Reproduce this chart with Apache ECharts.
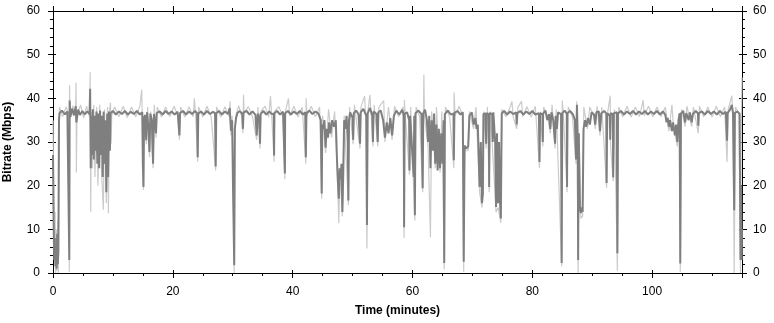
<!DOCTYPE html>
<html>
<head>
<meta charset="utf-8">
<script src="https://cdn.jsdelivr.net/npm/echarts@6/dist/echarts.min.js"></script>
<style>
html,body{margin:0;padding:0;background:#fff;}
#c{width:774px;height:323px;}
</style>
</head>
<body>
<div id="c"></div>
<script>
// Axis definitions
const xTicks = [0, 20, 40, 60, 80, 100];
const yTicks = [0, 10, 20, 30, 40, 50, 60];
const xMax = 115;

// Dark series: [time (minutes), bitrate (Mbps)]
const darkPoints = [
[0,27],[0.1,12],[0.2,3],[0.3,8],[0.4,1.5],[0.5,6],[0.6,1],[0.7,9],[0.8,2],[0.9,5],[1.0,35],[1.1,36.6],
[1.5,37.2],[2.0,36.3],[2.4,37.0],[2.65,36.6],[2.72,3],[2.78,39.5],[2.9,35.8],[3.2,37.6],[3.5,36.1],[3.8,38.2],[3.9,34.5],
[4.2,37.4],[4.5,36.2],[4.9,37.1],[5.3,36.3],[5.7,37.0],[6.1,36.4],[6.2,42.2],[6.3,24],[6.4,36],[6.5,27],[6.65,37.5],
[6.8,26],[6.95,36],[7.1,28],[7.25,37],[7.4,25],[7.55,36.5],[7.7,24],[7.85,37.2],[8.0,27],[8.15,36],[8.3,22],[8.45,37],
[8.6,25],[8.75,35],[8.9,18.5],[9.05,36.5],[9.2,22],[9.35,37],[9.5,28],[9.6,36.6],[10.0,37.1],[10.5,36.3],[11.0,37.0],
[11.5,36.4],[12.0,37.1],[12.5,36.3],[13.0,36.9],[13.5,36.4],[14.0,37.1],[14.5,36.3],[14.9,36.8],[15.0,25],[15.1,19.7],
[15.2,35.5],[15.4,36.2],[15.55,30.4],[15.7,36.8],[15.95,33],[16.1,27.7],[16.25,36.5],[16.5,35],[16.7,25],[16.85,36.4],
[17.1,36.8],[17.2,32],[17.3,36.6],[17.8,37.0],[18.3,36.3],[18.8,37.1],[19.3,36.4],[19.8,37.0],[20.3,36.3],[20.8,36.9],
[21.0,36.6],[21.1,31.5],[21.2,36.6],[21.7,37.1],[22.2,36.3],[22.7,37.0],[23.2,36.4],[23.7,37.1],[24.05,36.6],[24.15,26.5],
[24.25,36.5],[24.7,37.0],[25.2,36.3],[25.7,37.1],[26.2,36.4],[26.7,36.9],[27.05,36.6],[27.15,24.4],[27.25,36.6],[27.7,37.1],
[28.2,36.3],[28.7,37.0],[29.2,36.4],[29.5,37.8],[29.7,32.6],[29.9,35],[30.05,19.6],[30.25,1.8],[30.35,33],[30.55,35.5],
[30.8,36.7],[31.2,37.1],[31.6,36.4],[31.7,33],[31.8,36.8],[32.3,37.1],[32.8,36.3],[33.3,37.0],[33.8,36.2],[34.0,31.5],
[34.2,36.5],[34.45,35],[34.55,29.6],[34.65,36.4],[35.1,37.1],[35.6,36.3],[36.1,37.0],[36.5,36.4],[36.85,36.5],[36.9,26.9],
[36.95,36.6],[37.4,37.1],[37.9,36.3],[38.4,36.9],[38.65,36.5],[38.7,22.8],[38.75,36.6],[39.2,37.1],[39.7,36.3],[40.2,37.0],
[40.7,36.4],[41.2,37.1],[41.7,36.3],[42.1,36.8],[42.2,26.5],[42.3,36.6],[42.8,37.2],[43.3,36.4],[43.8,37.0],[44.3,36.5],
[44.7,35],[44.85,18.2],[44.95,34],[45.1,33],[45.3,35],[45.5,28.7],[45.65,33],[45.9,31],[46.1,34.5],[46.3,32],[46.6,35],
[46.9,33.5],[47.2,35],[47.4,26],[47.55,21],[47.7,17],[47.85,24],[48.0,21.5],[48.15,25],[48.3,14],[48.45,23],[48.6,35],
[48.8,33],[49.0,36],[49.2,30],[49.3,16.6],[49.4,35],[49.6,36.8],[50.0,35.5],[50.1,30.5],[50.2,36.6],[50.6,37.2],[51.0,36.3],
[51.25,29.6],[51.35,36.8],[51.8,37.6],[52.3,36],[52.4,11],[52.5,36.5],[52.9,37.8],[53.3,36],[53.4,30],[53.5,37],[54.0,36.4],
[54.2,30],[54.3,36.8],[54.7,37.2],[55.1,35],[55.4,31],[55.7,34.5],[56.0,32],[56.3,35.5],[56.6,31.5],[56.9,36],[57.3,37.2],
[57.8,36.3],[58.3,37.4],[58.55,36],[58.6,10.5],[58.7,36.5],[59.1,36.8],[59.45,35],[59.5,23.5],[59.6,36],[59.9,36.4],
[60.2,22],[60.3,36],[60.4,13.2],[60.5,36.6],[61.0,37.2],[61.5,36.4],[61.7,19.4],[61.8,36.6],[62.1,37.4],[62.4,35],[62.6,30],
[62.8,36],[63.0,24],[63.2,35],[63.4,28],[63.6,36.5],[63.8,25],[64.0,34],[64.2,23.5],[64.4,33],[64.6,24],[64.8,32],[65.0,25],
[65.2,35],[65.3,2.3],[65.4,36.4],[65.9,37.2],[66.4,36.3],[66.85,36.5],[66.9,25.8],[67.0,36.7],[67.5,37.1],[68.0,36.3],
[68.4,36.8],[68.55,2.6],[68.7,29.2],[69.0,28.5],[69.3,29],[69.5,36],[69.9,36.8],[70.2,34],[70.5,35.5],[70.7,33],[70.9,34],
[71.2,19.7],[71.4,30],[71.6,16],[71.75,18],[71.85,36.4],[72.2,36.6],[72.3,29.6],[72.4,36.6],[72.75,36.4],[72.8,19.7],
[72.85,36.6],[73.3,36.4],[73.4,30],[73.5,36.8],[73.8,30],[73.95,15.1],[74.1,32],[74.3,16],[74.45,30],[74.6,16.5],[74.75,12.5],
[74.9,36.6],[75.3,37.1],[75.8,36.3],[76.3,37.0],[76.8,36.4],[77.3,36.8],[77.4,34],[77.5,36.6],[78.0,37.1],[78.5,36.3],
[79.0,37.0],[79.5,36.4],[80.0,37.1],[80.5,36.3],[81.1,36.6],[81.2,25.4],[81.3,36.6],[81.7,36.3],[81.75,30],[81.8,36.5],
[82.2,37.2],[82.5,35],[82.8,36.4],[83.0,33],[83.2,36.8],[83.5,35],[83.8,29.6],[83.9,36],[84.1,33],[84.3,36.8],[84.8,36.4],
[84.9,2.3],[85.0,36.6],[85.4,37.2],[85.75,36.5],[85.8,19.7],[85.85,36.6],[86.3,37.1],[86.8,36.3],[87.1,35],[87.3,26],
[87.45,38.5],[87.6,30],[87.65,3],[87.75,32],[87.95,15],[88.1,13.7],[88.25,15],[88.4,14],[88.55,33],[88.8,35],[89.0,33.5],
[89.3,35.5],[89.6,34],[89.9,36.8],[90.3,36.3],[90.5,34],[90.7,36.8],[91.1,37.0],[91.3,32.5],[91.5,36.5],[92.0,37.1],
[92.35,36.5],[92.4,20.6],[92.5,36.6],[92.95,36],[93.0,30.5],[93.1,36.6],[93.45,36.4],[93.5,21.9],[93.6,36.6],[94.1,36.8],
[94.2,4.5],[94.3,36.5],[94.8,37.1],[95.3,36.3],[95.8,37.0],[96.3,36.4],[96.8,37.1],[97.3,36.3],[97.8,37.0],[98.3,36.4],
[98.8,37.1],[99.3,36.3],[99.8,37.0],[100.3,36.4],[100.8,37.1],[101.3,36.3],[101.8,37.0],[102.2,36.2],[102.4,34.5],[102.6,35.5],
[102.8,33.5],[103.0,35],[103.3,32.5],[103.5,34.5],[103.8,31.5],[104.0,34],[104.2,30],[104.4,35],[104.6,36.6],[104.7,2.2],
[104.8,36.5],[105.2,37.1],[105.5,34.5],[105.7,36.6],[106.1,35],[106.3,36.8],[106.6,34.5],[106.8,36.4],[107.3,37.1],
[107.65,36.5],[107.7,33.7],[107.8,36.6],[108.3,37.0],[108.8,36.3],[109.3,37.1],[109.8,36.4],[110.3,37.0],[110.8,36.3],
[111.3,37.1],[111.8,36.4],[112.3,36.9],[112.5,30.3],[112.6,36.6],[113.0,37.4],[113.3,38.5],[113.5,36.6],[113.65,36.5],
[113.7,14.4],[113.8,36.6],[114.2,37.0],[114.6,36.5],[114.75,3],[114.85,20],[114.95,3],[115,10]
];

// Light series (peaks / troughs): [time (minutes), bitrate (Mbps)]
const lightPoints = [
[0,35],[0.05,27],[0.15,17],[0.25,5],[0.35,14],[0.45,0],[0.55,10],[0.65,0.5],[0.8,12],[0.9,0],[1.0,36],[1.1,38],
[1.6,35.8],[2.2,38.1],[2.68,36],[2.72,0.3],[2.76,43],[2.85,35.5],[3.3,38.3],[3.75,36],[3.85,43.6],[3.9,23],[4.0,36],
[4.6,38.5],[5.1,35.5],[5.6,38.2],[6.1,35.8],[6.2,46],[6.3,14],[6.4,37],[6.6,24],[6.8,38.5],[7.0,22],[7.3,38],[7.5,20],
[7.8,38.5],[8.1,23],[8.4,14.5],[8.6,37.5],[8.9,16],[9.1,38],[9.25,13.7],[9.4,37],[9.6,39],[9.7,29.6],[9.8,36],[10.3,38],
[11.0,35.8],[11.7,38.2],[12.4,35.6],[13.1,38],[13.8,35.8],[14.5,38.2],[14.8,42],[14.9,36],[15.1,19],[15.2,36],[15.6,29.5],
[15.8,38],[16.1,26.5],[16.3,37],[16.7,24],[16.9,38.5],[17.2,31],[17.4,38],[18.1,35.7],[18.8,38],[19.5,35.8],[20.2,38.2],
[20.9,35.8],[21.1,30.5],[21.3,38],[22.0,35.7],[22.7,38.1],[23.4,35.8],[23.6,40],[23.8,36],[24.15,25.5],[24.3,38],[25.0,35.7],
[25.7,38.2],[26.4,35.8],[27.15,23.5],[27.3,38],[28.0,35.7],[28.7,38.1],[29.4,35.8],[29.55,39.3],[29.7,31.5],[29.9,36],
[30.1,18.5],[30.25,0],[30.35,32],[30.6,36.5],[31.0,38.3],[31.5,35.8],[31.7,32],[31.8,40.8],[31.9,36.5],[32.6,38.1],
[33.3,35.8],[34.0,30.5],[34.2,38],[34.55,28.5],[34.7,37],[35.4,38.2],[36.0,35.7],[36.3,40.5],[36.5,36],[36.9,25.5],[37.0,37],
[37.7,38.1],[38.4,35.8],[38.7,21.5],[38.8,37],[39.3,40],[39.5,36],[40.2,38.2],[40.9,35.7],[41.6,38],[42.2,25],[42.25,40],
[42.4,36],[43.1,38.2],[43.8,35.8],[44.5,38],[44.85,17],[45.0,36],[45.5,27.5],[46.0,37.5],[46.5,31],[47.0,37],[47.4,25],
[47.7,11.4],[47.9,23],[48.3,13],[48.6,36],[49.3,15.5],[49.5,38],[50.1,29.5],[50.3,38.5],[51.25,28.5],[51.4,38],[52.0,40.5],
[52.2,36],[52.4,5.6],[52.6,37.5],[52.9,40.8],[53.1,36],[53.4,29],[53.6,38.5],[54.2,29],[54.4,38],[55.2,39.5],[55.4,30],
[56.0,38],[56.6,30.5],[57.0,38.2],[57.7,35.8],[58.4,38],[58.6,8],[58.65,39.6],[58.8,36],[59.5,22.5],[59.7,38],[60.4,12],
[60.6,38],[61.2,35.8],[61.7,18.5],[61.9,45.4],[62.0,36],[62.6,29],[63.0,8.2],[63.2,37],[63.8,24],[64.0,38],[64.6,23],
[64.9,37],[65.3,0.8],[65.5,38],[66.2,35.8],[66.9,24],[66.95,41.4],[67.1,36],[67.8,38.2],[68.4,35.8],[68.55,0.3],[68.7,28],
[69.3,28],[69.5,37],[70.2,33],[70.6,38],[71.2,18.5],[71.6,15],[71.85,37],[72.3,28.5],[72.5,38],[72.8,18.5],[73.0,37],
[73.95,14],[74.3,15],[74.75,11.5],[74.9,37.5],[75.6,35.8],[76.3,38],[76.6,39.3],[76.8,35.8],[77.4,33],[77.6,38],[78.2,39.3],
[78.4,35.8],[79.1,38.1],[79.8,35.7],[80.5,38.2],[81.2,24],[81.3,37],[81.75,29],[81.9,38],[82.6,35.6],[83.0,32],[83.3,38.5],
[83.8,28.5],[84.0,37.5],[84.9,1.5],[85.0,39.5],[85.2,36],[85.8,18.5],[86.0,38],[86.7,35.8],[87.3,25],[87.4,39.3],[87.65,0],
[87.8,32],[88.1,12.5],[88.4,13],[88.6,38],[89.2,33],[89.6,38],[90.3,35.7],[90.5,33],[90.8,38.2],[91.3,31.5],[91.6,38],
[92.4,19.5],[92.6,37],[93.0,40.6],[93.05,29.5],[93.5,21],[93.7,37.5],[94.2,0.5],[94.4,38],[95.1,35.8],[95.8,38.2],
[96.5,35.7],[97.2,38],[97.9,35.8],[98.5,39.6],[98.7,36],[99.4,38.2],[100.1,35.7],[100.8,38],[101.5,35.8],[102.2,38],
[102.8,32.5],[103.3,38.5],[103.6,33],[104.0,30.5],[104.2,29],[104.5,36],[104.7,0.3],[104.9,37.5],[105.5,33.5],[105.8,38.2],
[106.6,33.5],[106.9,38],[107.7,32],[107.9,38.2],[108.6,35.8],[109.3,38],[110.0,35.7],[110.7,38.2],[111.4,35.8],[112.1,38],
[112.5,25.4],[112.7,37.5],[113.3,40.6],[113.5,36],[113.7,0],[113.9,38],[114.5,36.5],[114.75,0],[114.85,30],[115,44.8]
];

const chart = echarts.init(document.getElementById('c'), null, {renderer: 'canvas'});
const font = 'Liberation Sans, Arial, sans-serif';
const axisLine = {show: true, onZero: false, lineStyle: {color: '#000', width: 1}};
const labelStyle = {color: '#000', fontSize: 12, fontFamily: font};

function xAx(pos, withLabel, inside) {
  return {
    type: 'value', min: xTicks[0], max: xMax, interval: 20, position: pos,
    axisLine: axisLine,
    axisTick: {show: true, inside: inside, length: inside ? 3 : 5, lineStyle: {color: '#000'}},
    minorTick: {show: !inside, splitNumber: 4, length: 3, lineStyle: {color: '#000'}},
    axisLabel: {show: withLabel, margin: 13, showMaxLabel: false, ...labelStyle},
    splitLine: {show: false}
  };
}
function yAx(pos, withLabel, inside) {
  return {
    type: 'value', min: yTicks[0], max: yTicks[yTicks.length - 1], interval: 10, position: pos,
    axisLine: axisLine,
    axisTick: {show: true, inside: inside, length: inside ? 3 : 5, lineStyle: {color: '#000'}},
    minorTick: {show: !inside, splitNumber: 5, length: 3, lineStyle: {color: '#000'}},
    axisLabel: {show: withLabel, margin: pos === 'left' ? 13 : 11, ...labelStyle},
    splitLine: {show: false}
  };
}

const xBottom = xAx('bottom', true, false);
xBottom.name = 'Time (minutes)';
xBottom.nameLocation = 'middle';
xBottom.nameGap = 32;
xBottom.nameTextStyle = {color: '#000', fontSize: 12, fontWeight: 'bold', fontFamily: font};

const yLeft = yAx('left', true, false);
yLeft.name = 'Bitrate (Mbps)';
yLeft.nameLocation = 'middle';
yLeft.nameGap = 39;
yLeft.nameTextStyle = {color: '#000', fontSize: 12, fontWeight: 'bold', fontFamily: font};

chart.setOption({
  animation: false,
  backgroundColor: '#fff',
  grid: {left: 53, right: 32, top: 11, bottom: 50, containLabel: false, outerBoundsMode: 'none'},
  xAxis: [xBottom, xAx('top', false, false), xAx('bottom', false, true), xAx('top', false, true)],
  yAxis: [yLeft, yAx('right', true, false), yAx('left', false, true), yAx('right', false, true)],
  series: [
    {
      type: 'line', xAxisIndex: 0, yAxisIndex: 0, data: lightPoints,
      showSymbol: false, symbol: 'none', sampling: null,
      lineStyle: {color: '#cbcbcb', width: 1.2}, silent: true, z: 1
    },
    {
      type: 'line', xAxisIndex: 0, yAxisIndex: 0, data: darkPoints,
      showSymbol: false, symbol: 'none',
      lineStyle: {color: '#7f7f7f', width: 2}, silent: true, z: 2
    }
  ]
});
</script>
</body>
</html>
